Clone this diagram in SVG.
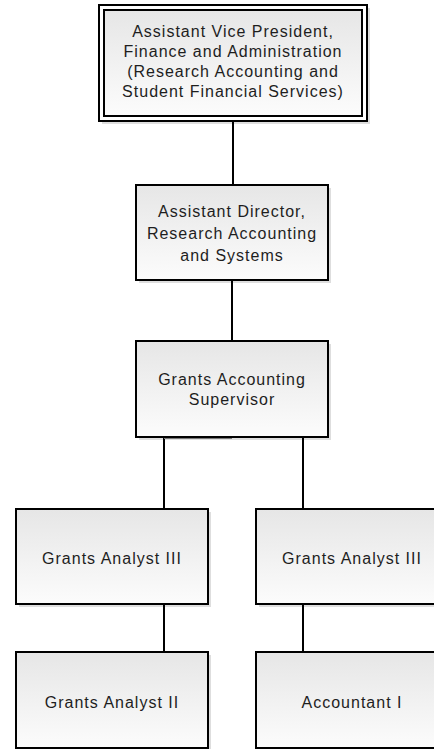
<svg xmlns="http://www.w3.org/2000/svg" width="434" height="749" viewBox="0 0 434 749">
<defs>
<linearGradient id="fillg" x1="0" y1="0" x2="0" y2="1">
<stop offset="0" stop-color="#e6e6e6"/>
<stop offset="1" stop-color="#fcfcfc"/>
</linearGradient>
<style>
.box{fill:url(#fillg);stroke:#000;stroke-width:2}
.shadow{fill:#000;opacity:0.13}
.frame{fill:#fff;stroke:#000;stroke-width:2}
.lbl{font-family:"Liberation Sans",Arial,sans-serif;font-size:16px;letter-spacing:1px;fill:#1e1e1e;text-anchor:middle}
.conn{fill:none;stroke:#000;stroke-width:2}
.hint{fill:none;stroke:#8a8a8a;stroke-width:1}
</style>
</defs>
<rect width="434" height="749" fill="#fff"/>
<g id="connectors">
<path class="conn" d="M233,121 V185"/>
<path class="conn" d="M232,280 V341"/>
<path class="conn" d="M164,437 V509"/>
<path class="conn" d="M303,437 V509"/>
<path class="conn" d="M164,604 V652"/>
<path class="conn" d="M303,604 V652"/>
<path class="hint" d="M164,438.5 H232"/>
<path class="hint" d="M112,652.5 H164"/>
<path class="hint" d="M303,652.5 H352"/>
</g>
<g id="avp">
<rect class="shadow" x="102" y="8" width="268" height="116"/>
<rect class="frame" x="99" y="5" width="268" height="116"/>
<rect class="box" x="104" y="10" width="258" height="106"/>
<text class="lbl" x="233" y="37">Assistant Vice President,</text>
<text class="lbl" x="233" y="57">Finance and Administration</text>
<text class="lbl" x="233" y="77">(Research Accounting and</text>
<text class="lbl" x="233" y="97">Student Financial Services)</text>
</g>
<g id="asstdir">
<rect class="shadow" x="139" y="188" width="192" height="95"/>
<rect class="box" x="136" y="185" width="192" height="95"/>
<text class="lbl" x="232" y="217">Assistant Director,</text>
<text class="lbl" x="232" y="239">Research Accounting</text>
<text class="lbl" x="232" y="261">and Systems</text>
</g>
<g id="supervisor">
<rect class="shadow" x="139" y="344" width="192" height="96"/>
<rect class="box" x="136" y="341" width="192" height="96"/>
<text class="lbl" x="232" y="385">Grants Accounting</text>
<text class="lbl" x="232" y="405">Supervisor</text>
</g>
<g id="analyst3a">
<rect class="shadow" x="19" y="512" width="192" height="95"/>
<rect class="box" x="16" y="509" width="192" height="95"/>
<text class="lbl" x="112" y="564">Grants Analyst III</text>
</g>
<g id="analyst3b">
<rect class="shadow" x="259" y="512" width="192" height="95"/>
<rect class="box" x="256" y="509" width="192" height="95"/>
<text class="lbl" x="352" y="564">Grants Analyst III</text>
</g>
<g id="analyst2">
<rect class="shadow" x="19" y="655" width="192" height="96"/>
<rect class="box" x="16" y="652" width="192" height="96"/>
<text class="lbl" x="112" y="708">Grants Analyst II</text>
</g>
<g id="accountant1">
<rect class="shadow" x="259" y="655" width="192" height="96"/>
<rect class="box" x="256" y="652" width="192" height="96"/>
<text class="lbl" x="352" y="708">Accountant I</text>
</g>
</svg>
